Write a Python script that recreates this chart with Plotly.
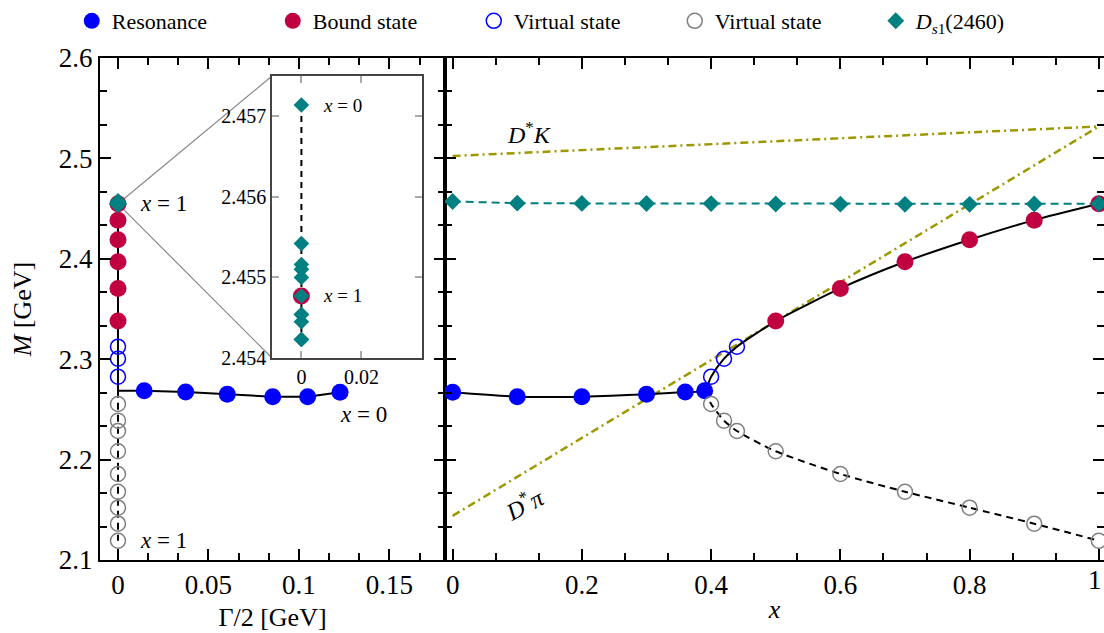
import plotly.graph_objects as go

# ---------------- pole trajectories ----------------
# resonance poles (right panel: vs x, left panel: M vs Gamma/2)
x_res = [0.0, 0.1, 0.2, 0.3, 0.36, 0.39]
gamma_res = [0.1227, 0.1048, 0.0855, 0.0604, 0.0374, 0.0145]
M_res = [2.2670, 2.2627, 2.2627, 2.2650, 2.2673, 2.2686]

# virtual state (upper branch)
x_vb = [0.40, 0.42, 0.44]
M_vb = [2.2826, 2.3005, 2.3125]

# bound state
x_bs = [0.5, 0.6, 0.7, 0.8, 0.9, 1.0]
M_bs = [2.3380, 2.3705, 2.3970, 2.4190, 2.4385, 2.45477]

# virtual state (lower branch)
x_vg = [0.40, 0.42, 0.44, 0.5, 0.6, 0.7, 0.8, 0.9, 1.0]
M_vg = [2.2554, 2.2388, 2.2285, 2.2083, 2.1857, 2.1680, 2.1521, 2.1362, 2.1192]

# D_s1(2460)
x_ds = [0.0, 0.1, 0.2, 0.3, 0.4, 0.5, 0.6, 0.7, 0.8, 0.9, 1.0]
M_ds = [2.45714, 2.45542, 2.45516, 2.45510, 2.45500, 2.45454,
        2.45445, 2.45423, 2.45423, 2.45454, 2.45477]

# thresholds
x_thr = [0.0, 1.0]
M_DK = [2.5024, 2.5318]
M_Dpi = [2.1440, 2.5318]

# tick labels of the x axis (right panel)
x_tickvals = [0.0, 0.2, 0.4, 0.6, 0.8, 1.0]
x_ticktext = ["0", "0.2", "0.4", "0.6", "0.8", "1"]

# ---------------- style ----------------
FONT = "Liberation Serif, DejaVu Serif, serif"
BLUE = "#0000FF"
RED = "#C00040"
GREY = "#808080"
TEAL = "#008080"
OLIVE = "#9E9800"
W, H = 1104, 633

dom_left = [100 / W, 445 / W]
dom_right = [445 / W, 1.0]
dom_y = [1 - 560 / H, 1 - 58 / H]
dom_in_x = [272 / W, 422 / W]
dom_in_y = [1 - 358 / H, 1 - 76 / H]

rng_left = [-0.00994, 0.1807]
rng_right = [-0.0118, 1.008]
rng_y = [2.1, 2.6]
rng_in_x = [-0.0098, 0.0402]
rng_in_y = [2.454, 2.4575]

fig = go.Figure()

# ---- left panel: M vs Gamma/2 ----
fig.add_trace(go.Scatter(
    x=gamma_res + [0.0] * (1 + len(M_vb) + len(M_bs)),
    y=M_res + [M_res[-1]] + M_vb + M_bs,
    mode="lines", line=dict(color="black", width=2),
    showlegend=False, xaxis="x", yaxis="y"))
fig.add_trace(go.Scatter(
    x=[0.0] * (1 + len(M_vg)), y=[M_res[-1]] + M_vg,
    mode="lines", line=dict(color="black", width=2, dash="7px,5px"),
    showlegend=False, xaxis="x", yaxis="y"))
fig.add_trace(go.Scatter(
    x=gamma_res, y=M_res, mode="markers",
    marker=dict(color=BLUE, size=17), showlegend=False, xaxis="x", yaxis="y"))
fig.add_trace(go.Scatter(
    x=[0.0] * len(M_bs), y=M_bs, mode="markers",
    marker=dict(color=RED, size=17), showlegend=False, xaxis="x", yaxis="y"))
fig.add_trace(go.Scatter(
    x=[0.0] * len(M_vb), y=M_vb, mode="markers",
    marker=dict(color=BLUE, size=15, symbol="circle-open", line=dict(width=1.5)),
    showlegend=False, xaxis="x", yaxis="y"))
fig.add_trace(go.Scatter(
    x=[0.0] * len(M_vg), y=M_vg, mode="markers",
    marker=dict(color=GREY, size=15, symbol="circle-open", line=dict(width=1.5)),
    showlegend=False, xaxis="x", yaxis="y"))
fig.add_trace(go.Scatter(
    x=[0.0] * len(M_ds), y=M_ds, mode="markers",
    marker=dict(color=TEAL, size=13, symbol="diamond"),
    showlegend=False, xaxis="x", yaxis="y"))

# ---- right panel: M vs x ----
fig.add_trace(go.Scatter(
    x=x_thr, y=M_DK, mode="lines",
    line=dict(color=OLIVE, width=2.5, dash="8px,4px,2px,4px"),
    showlegend=False, xaxis="x2", yaxis="y2"))
fig.add_trace(go.Scatter(
    x=x_thr, y=M_Dpi, mode="lines",
    line=dict(color=OLIVE, width=2.5, dash="8px,4px,2px,4px"),
    showlegend=False, xaxis="x2", yaxis="y2"))
fig.add_trace(go.Scatter(
    x=x_res + x_vb + x_bs, y=M_res + M_vb + M_bs, mode="lines",
    line=dict(color="black", width=2, shape="spline", smoothing=0.6),
    showlegend=False, xaxis="x2", yaxis="y2"))
fig.add_trace(go.Scatter(
    x=[x_res[-1]] + x_vg, y=[M_res[-1]] + M_vg, mode="lines",
    line=dict(color="black", width=2, dash="7px,5px", shape="spline", smoothing=0.6),
    showlegend=False, xaxis="x2", yaxis="y2"))
fig.add_trace(go.Scatter(
    x=x_ds, y=M_ds, mode="lines",
    line=dict(color=TEAL, width=2, dash="8px,5px"),
    showlegend=False, xaxis="x2", yaxis="y2"))

fig.add_trace(go.Scatter(
    x=x_res, y=M_res, mode="markers", name="Resonance",
    marker=dict(color=BLUE, size=17), xaxis="x2", yaxis="y2"))
fig.add_trace(go.Scatter(
    x=x_bs, y=M_bs, mode="markers", name="Bound state",
    marker=dict(color=RED, size=17), xaxis="x2", yaxis="y2"))
fig.add_trace(go.Scatter(
    x=x_vb, y=M_vb, mode="markers", name="Virtual state",
    marker=dict(color=BLUE, size=15, symbol="circle-open", line=dict(width=1.5)),
    xaxis="x2", yaxis="y2"))
fig.add_trace(go.Scatter(
    x=x_vg, y=M_vg, mode="markers", name="Virtual state",
    marker=dict(color=GREY, size=15, symbol="circle-open", line=dict(width=1.5)),
    xaxis="x2", yaxis="y2"))
fig.add_trace(go.Scatter(
    x=x_ds, y=M_ds, mode="markers", name="<i>D</i><sub><i>s</i>1</sub>(2460)",
    marker=dict(color=TEAL, size=13, symbol="diamond"), xaxis="x2", yaxis="y2"))

# ---- inset: zoom on D_s1(2460) ----
fig.add_trace(go.Scatter(
    x=[0.0] * len(M_ds), y=M_ds, mode="lines",
    line=dict(color="black", width=2, dash="6px,5px"),
    showlegend=False, xaxis="x3", yaxis="y3"))
fig.add_trace(go.Scatter(
    x=[0.0], y=[M_bs[-1]], mode="markers",
    marker=dict(color=RED, size=17), showlegend=False, xaxis="x3", yaxis="y3"))
fig.add_trace(go.Scatter(
    x=[0.0] * len(M_ds), y=M_ds, mode="markers",
    marker=dict(color=TEAL, size=12, symbol="diamond"),
    showlegend=False, xaxis="x3", yaxis="y3"))

# ---------------- axes ----------------
TICK_SIZE = 27
major = dict(showline=True, linecolor="black", linewidth=2, mirror="ticks",
             ticks="inside", ticklen=11, tickwidth=2, tickcolor="black",
             showgrid=False, zeroline=False, automargin=False,
             tickfont=dict(family=FONT, size=TICK_SIZE, color="black"))


def minor(step):
    return dict(dtick=step, ticks="inside", ticklen=7, tickwidth=2,
                tickcolor="black", showgrid=False)


title_font = dict(family=FONT, size=26, color="black")

# the last label sits on the figure edge: it is drawn right-aligned below
x_ticktext_axis = x_ticktext[:-1] + [""]

fig.update_layout(
    xaxis=dict(**major, domain=dom_left, range=rng_left, anchor="y",
               tick0=0, dtick=0.05, minor=dict(minor(0.05 / 3), tick0=0),
               title=dict(text="Γ/2 [GeV]", font=title_font, standoff=8)),
    yaxis=dict(**major, domain=dom_y, range=rng_y, anchor="x",
               tick0=2.1, dtick=0.1, minor=dict(minor(0.1 / 3), tick0=2.1),
               title=dict(text="<i>M</i> [GeV]", font=title_font, standoff=20)),
    xaxis2=dict(**major, domain=dom_right, range=rng_right, anchor="y2",
                tickvals=x_tickvals, ticktext=x_ticktext_axis,
                minor=dict(minor(0.2 / 3), tick0=0),
                title=dict(text="<i>x</i>", font=title_font, standoff=0)),
    yaxis2=dict(**major, domain=dom_y, range=rng_y, anchor="x2",
                tick0=2.1, dtick=0.1, minor=dict(minor(0.1 / 3), tick0=2.1),
                showticklabels=False),
    xaxis3=dict(showline=True, linecolor="#444444", linewidth=1.5, mirror="ticks",
                ticks="inside", ticklen=7, tickwidth=1.5, tickcolor="#AAAAAA",
                showgrid=False, zeroline=False, automargin=False,
                domain=dom_in_x, range=rng_in_x, anchor="y3",
                tickvals=[0, 0.02], ticktext=["0", "0.02"],
                tickfont=dict(family=FONT, size=20, color="black")),
    yaxis3=dict(showline=True, linecolor="#444444", linewidth=1.5, mirror="ticks",
                ticks="inside", ticklen=7, tickwidth=1.5, tickcolor="#AAAAAA",
                showgrid=False, zeroline=False, automargin=False,
                domain=dom_in_y, range=rng_in_y, anchor="x3",
                tickvals=[2.454, 2.455, 2.456, 2.457],
                ticktext=["2.454", "2.455", "2.456", "2.457"],
                tickfont=dict(family=FONT, size=20, color="black")),
)

fig.add_annotation(x=1.0, xref="paper", y=rng_y[0], yref="y2",
                   text=x_ticktext[-1], showarrow=False,
                   xanchor="right", yanchor="top", yshift=-3,
                   font=dict(family=FONT, size=TICK_SIZE, color="black"))


# connector lines from the D_s1 point in the left panel to the inset corners
def to_left_x(p):
    return rng_left[0] + (p - dom_left[0]) / (dom_left[1] - dom_left[0]) * (rng_left[1] - rng_left[0])


def to_left_y(p):
    return rng_y[0] + (p - dom_y[0]) / (dom_y[1] - dom_y[0]) * (rng_y[1] - rng_y[0])


for corner_y in dom_in_y:
    fig.add_shape(type="line", xref="x", yref="y",
                  x0=0.0, y0=M_bs[-1],
                  x1=to_left_x(dom_in_x[0]), y1=to_left_y(corner_y),
                  line=dict(color="#888888", width=1.2), layer="below")

ann_font = dict(family=FONT, size=23, color="black")
fig.add_annotation(x=0.011, y=M_bs[-1], xref="x", yref="y", text="<i>x</i> = 1",
                   showarrow=False, xanchor="left", yanchor="middle", font=ann_font)
fig.add_annotation(x=0.1215, y=2.2454, xref="x", yref="y", text="<i>x</i> = 0",
                   showarrow=False, xanchor="left", yanchor="middle", font=ann_font)
fig.add_annotation(x=0.011, y=M_vg[-1], xref="x", yref="y", text="<i>x</i> = 1",
                   showarrow=False, xanchor="left", yanchor="middle", font=ann_font)
inset_font = dict(family=FONT, size=19, color="black")
fig.add_annotation(x=0.0064, y=M_ds[0], xref="x3", yref="y3", text="<i>x</i> = 0",
                   showarrow=False, xanchor="left", yanchor="middle", font=inset_font)
fig.add_annotation(x=0.0064, y=M_bs[-1], xref="x3", yref="y3", text="<i>x</i> = 1",
                   showarrow=False, xanchor="left", yanchor="middle", font=inset_font)
thr_font = dict(family=FONT, size=24, color="black")
fig.add_annotation(x=0.119, y=2.5253, xref="x2", yref="y2",
                   text="<i>D</i><sup>*</sup><i>K</i>",
                   showarrow=False, font=thr_font)
fig.add_annotation(x=0.111, y=2.1568, xref="x2", yref="y2",
                   text="<i>D</i><sup>*</sup><i>π</i>", textangle=-28,
                   showarrow=False, font=thr_font)

fig.update_layout(
    width=W, height=H,
    margin=dict(l=0, r=0, t=0, b=0),
    paper_bgcolor="white", plot_bgcolor="white",
    font=dict(family=FONT, color="black"),
    legend=dict(orientation="h", x=0.065, y=1.0, xanchor="left", yanchor="top",
                font=dict(family=FONT, size=22, color="black"),
                entrywidth=156, entrywidthmode="pixels",
                bgcolor="rgba(0,0,0,0)", itemwidth=30, tracegroupgap=0),
)

fig.write_html("out.html")
